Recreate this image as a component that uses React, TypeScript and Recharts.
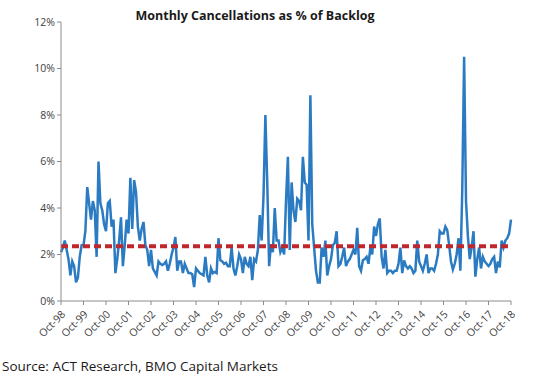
import React from "react";
import { LineChart, Line, XAxis, YAxis, ReferenceLine } from "recharts";

// Monthly cancellations (% of backlog), Oct-98 .. Oct-18, one row per year (Oct..Sep)
const y1998 = [2.1, 2.3, 2.6, 2.2, 1.8, 1.1, 1.7, 1.5, 0.8, 1.0, 1.9, 2.4];
const y1999 = [2.4, 3.0, 4.9, 4.2, 3.5, 4.3, 3.9, 1.9, 6.0, 4.2, 3.9, 3.3];
const y2000 = [3.0, 4.2, 4.3, 3.2, 3.5, 1.2, 1.8, 2.6, 3.6, 1.5, 2.4, 3.5];
const y2001 = [2.9, 5.3, 3.1, 5.2, 4.7, 3.2, 2.6, 3.1, 3.4, 2.4, 2.2, 1.5];
const y2002 = [2.2, 1.4, 1.25, 1.1, 1.7, 1.6, 1.55, 1.6, 1.7, 1.3, 1.6, 2.0];
const y2003 = [2.3, 2.75, 1.3, 1.7, 1.7, 1.2, 1.6, 1.4, 1.2, 1.2, 1.15, 0.6];
const y2004 = [1.4, 1.3, 1.2, 1.15, 1.1, 1.9, 1.1, 0.8, 1.4, 1.2, 1.25, 1.2];
const y2005 = [2.7, 1.75, 1.7, 1.6, 1.65, 1.5, 1.5, 2.3, 1.4, 1.1, 1.5, 2.0];
const y2006 = [1.8, 1.2, 1.9, 1.6, 1.5, 1.9, 0.9, 1.8, 1.7, 2.2, 3.7, 2.6];
const y2007 = [4.5, 8.0, 5.1, 1.5, 2.45, 2.1, 4.0, 2.6, 2.6, 2.1, 2.3, 2.0];
const y2008 = [4.3, 6.2, 2.2, 5.1, 3.9, 3.4, 4.4, 4.3, 3.9, 6.2, 5.1, 5.0];
const y2009 = [2.6, 8.85, 3.3, 2.3, 1.3, 0.8, 0.8, 2.3, 1.9, 2.6, 1.1, 1.5];
const y2010 = [1.8, 2.4, 2.5, 3.0, 1.5, 1.6, 1.9, 2.3, 1.5, 1.7, 1.8, 2.0];
const y2011 = [2.2, 2.0, 3.15, 1.5, 1.3, 1.75, 1.8, 1.9, 1.6, 2.3, 2.0, 3.2];
const y2012 = [2.8, 3.3, 3.55, 1.9, 1.4, 2.2, 1.2, 1.3, 1.3, 1.2, 1.3, 1.3];
const y2013 = [1.6, 2.3, 1.2, 1.75, 1.5, 1.4, 1.5, 1.4, 1.2, 1.3, 2.6, 1.7];
const y2014 = [1.5, 1.3, 1.6, 2.0, 1.2, 1.4, 1.4, 1.3, 1.6, 2.0, 3.0, 2.9];
const y2015 = [2.9, 3.2, 3.05, 2.4, 1.7, 1.35, 1.6, 2.0, 2.7, 1.3, 4.75, 10.5];
const y2016 = [4.3, 2.8, 1.8, 2.3, 3.0, 1.05, 1.8, 2.3, 1.4, 1.9, 1.7, 1.6];
const y2017 = [1.5, 1.6, 1.8, 1.9, 1.2, 1.7, 1.45, 2.6, 2.3, 2.6, 2.7, 2.9];
const y2018 = [3.5];

const average = [2.35];

const tickLabels = [
  "Oct-98", "Oct-99", "Oct-00", "Oct-01", "Oct-02", "Oct-03", "Oct-04",
  "Oct-05", "Oct-06", "Oct-07", "Oct-08", "Oct-09", "Oct-10", "Oct-11",
  "Oct-12", "Oct-13", "Oct-14", "Oct-15", "Oct-16", "Oct-17", "Oct-18",
];
const yTicks = [0, 2, 4, 6, 8, 10, 12];

const values = [
  ...y1998, ...y1999, ...y2000, ...y2001, ...y2002, ...y2003, ...y2004,
  ...y2005, ...y2006, ...y2007, ...y2008, ...y2009, ...y2010, ...y2011,
  ...y2012, ...y2013, ...y2014, ...y2015, ...y2016, ...y2017, ...y2018,
];
const data = values.map((v, i) => ({ m: i, v }));
const xTicks = tickLabels.map((_, i) => i * 12);

const FONT = "'Open Sans', 'DejaVu Sans', sans-serif";

const XTick = (props: any) => {
  const { x, y, payload } = props;
  const label = tickLabels[Math.round(payload.value / 12)];
  return (
    <text
      x={x + 5}
      y={y + 8}
      textAnchor="end"
      fontSize={10.5}
      fontFamily={FONT}
      fill="#404040"
      transform={`rotate(-45 ${x + 5} ${y + 8})`}
    >
      {label}
    </text>
  );
};

export default function App() {
  return (
    <div style={{ position: "absolute", left: 0, top: 0, width: 549, height: 379, background: "#fff" }}>
      <div
        style={{
          position: "absolute",
          left: 0,
          width: 510,
          top: 7,
          textAlign: "center",
          fontFamily: FONT,
          fontWeight: 700,
          fontSize: 12.5,
          color: "#1a1a1a",
        }}
      >
        Monthly Cancellations as % of Backlog
      </div>
      <LineChart
        width={549}
        height={379}
        data={data}
        margin={{ top: 22, right: 38, bottom: 28, left: 11 }}
      >
        <XAxis
          dataKey="m"
          type="number"
          domain={[0, 240]}
          ticks={xTicks}
          interval={0}
          tick={<XTick />}
          tickSize={4}
          stroke="#8c8c8c"
          height={50}
        />
        <YAxis
          type="number"
          domain={[0, 12]}
          ticks={yTicks}
          tickFormatter={(v: number) => `${v}%`}
          tick={{ fontSize: 10.5, fontFamily: FONT, fill: "#404040" }}
          tickSize={4}
          stroke="#8c8c8c"
          width={50}
        />
        <Line
          type="linear"
          dataKey="v"
          stroke="#2B7BC2"
          strokeWidth={2.5}
          dot={false}
          isAnimationActive={false}
        />
        <ReferenceLine
          y={average[0]}
          stroke="#C0272D"
          strokeWidth={4}
          strokeDasharray="7 4"
        />
      </LineChart>
      <div
        style={{
          position: "absolute",
          left: 2,
          top: 357,
          fontFamily: FONT,
          fontSize: 13.5,
          color: "#1a1a1a",
        }}
      >
        Source: ACT Research, BMO Capital Markets
      </div>
    </div>
  );
}
